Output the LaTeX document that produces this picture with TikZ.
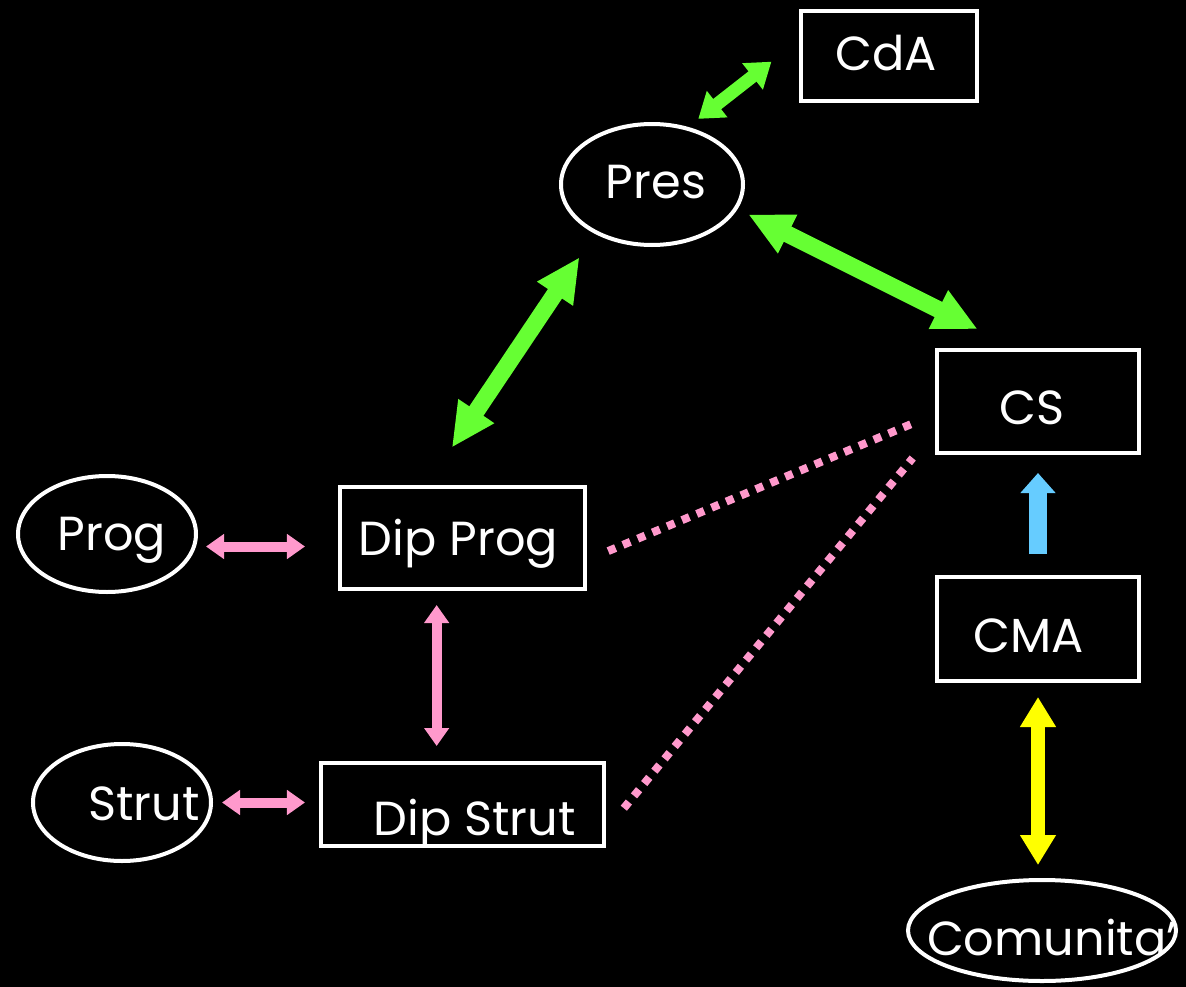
\documentclass[tikz,border=0pt]{standalone}
\usepackage{fontspec}
\setmainfont{Poppins}
\usetikzlibrary{arrows.meta,shapes.geometric,calc}
\definecolor{linkgreen}{RGB}{102,255,51}
\definecolor{linkpink}{RGB}{255,153,204}
\definecolor{linkyellow}{RGB}{255,255,0}
\definecolor{linkblue}{RGB}{102,204,255}
\newlength{\pxu}
\setlength{\pxu}{0.025cm}
% text moved sideways inside its node, by #1 pixels
\newcommand{\offsettext}[2]{\makebox[0pt]{\hspace*{#1\pxu}#2\hspace*{-#1\pxu}}}

\begin{document}
\begin{tikzpicture}[x=0.025cm,y=-0.025cm,
    box/.style={draw=white,line width=4\pxu,rectangle,inner sep=0pt,text=white,
      font=\fontsize{34}{40}\selectfont,text depth=0pt},
    oval/.style={draw=white,line width=4\pxu,ellipse,inner sep=0pt,text=white,
      font=\fontsize{34}{40}\selectfont,text depth=0pt},
    greenlink/.style={linkgreen,line width=17\pxu,
      {Triangle[width=1cm,length=1.1cm]}-{Triangle[width=1cm,length=1.1cm]}},
    greenshort/.style={linkgreen,line width=13\pxu,
      {Triangle[width=0.8cm,length=0.6cm]}-{Triangle[width=0.8cm,length=0.6cm]}},
    pinklink/.style={linkpink,line width=10\pxu,
      {Triangle[width=0.6cm,length=0.45cm]}-{Triangle[width=0.6cm,length=0.45cm]}},
    yellowlink/.style={linkyellow,line width=14\pxu,
      {Triangle[width=0.85cm,length=0.75cm]}-{Triangle[width=0.85cm,length=0.75cm]}},
    bluelink/.style={linkblue,line width=18\pxu,-{Triangle[width=0.85cm,length=0.5cm]}},
    dotlink/.style={linkpink,line width=8\pxu,dash pattern=on 8\pxu off 8\pxu}]
  \useasboundingbox (0,0) rectangle (1186,987);
  \fill[black] (0,0) rectangle (1186,987);
  % Boxes
  \node[box,minimum width=176\pxu,minimum height=90\pxu,text height=28\pxu]
    (cda) at (889,56) {\offsettext{-3}{CdA}};
  \node[box,minimum width=202\pxu,minimum height=103\pxu,text height=45\pxu]
    (cs) at (1038,401.5) {\offsettext{-6}{CS}};
  \node[box,minimum width=245\pxu,minimum height=102\pxu,text height=34\pxu]
    (dipprog) at (462.5,538) {\offsettext{-4}{Dip Prog}};
  \node[box,minimum width=202\pxu,minimum height=104\pxu,text height=46\pxu]
    (cma) at (1038,629) {\offsettext{-9}{CMA}};
  \node[box,minimum width=283\pxu,minimum height=83\pxu,text height=62\pxu]
    (dipstrut) at (462.5,804.5) {\offsettext{12}{Dip Strut}};
  % Ovals
  \node[oval,minimum width=182\pxu,minimum height=121\pxu,text height=27\pxu]
    (pres) at (652,184.5) {\offsettext{4}{Pres}};
  \node[oval,minimum width=178\pxu,minimum height=116\pxu,text height=32\pxu]
    (prog) at (107,534) {\offsettext{5}{Prog}};
  \node[oval,minimum width=178\pxu,minimum height=117\pxu,text height=35\pxu]
    (strut) at (122,802.5) {\offsettext{22}{Strut}};
  \node[oval,minimum width=268\pxu,minimum height=101\pxu,text height=49\pxu]
    (comunita) at (1042,930.5) {\offsettext{10}{Comunita'}};
  % Green links round Pres
  \draw[greenshort,shorten <=13\pxu,shorten >=35\pxu] (pres.58) -- (cda.170);
  \draw[greenlink,shorten <=28\pxu,shorten >=45\pxu] (pres.221) -- (dipprog.124);
  \draw[greenlink,shorten <=12\pxu,shorten >=42\pxu] (pres.-16) -- (cs.113);
  % Pink links
  \draw[pinklink,shorten <=10\pxu,shorten >=33\pxu] (prog.-8) -- (prog.-8 -| dipprog.west);
  \draw[pinklink,shorten <=14\pxu,shorten >=15\pxu] (dipprog.244) -- (dipprog.244 |- dipstrut.north);
  \draw[pinklink,shorten <=9\pxu,shorten >=14\pxu] (strut.east) -- (strut.east -| dipstrut.west);
  \draw[dotlink,shorten <=23\pxu,shorten >=25\pxu] (dipprog.-10) -- (cs.187);
  \draw[dotlink,shorten <=28\pxu,shorten >=35\pxu] (dipstrut.-10) -- (cs.196);
  % CMA links
  \draw[bluelink,shorten <=21\pxu,shorten >=18\pxu] (cma.north) -- (cs.south);
  \draw[yellowlink,shorten <=14\pxu,shorten >=13\pxu] (cma.south) -- (cma.south |- comunita.north);
\end{tikzpicture}
\end{document}
